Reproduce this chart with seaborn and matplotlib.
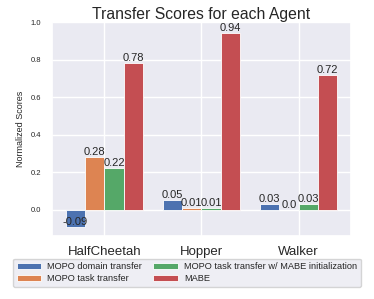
import numpy as np
import matplotlib
matplotlib.use("Agg")
import matplotlib.pyplot as plt
import seaborn as sns

agents = ["HalfCheetah", "Hopper", "Walker"]
series_names = ["MOPO domain transfer", "MOPO task transfer",
                "MOPO task transfer w/ MABE initialization", "MABE"]
domain_transfer = [-0.09, 0.05, 0.03]
task_transfer = [0.28, 0.01, 0.0]
task_transfer_mabe = [0.22, 0.01, 0.03]
mabe = [0.78, 0.94, 0.72]
series_values = [domain_transfer, task_transfer, task_transfer_mabe, mabe]
y_ticks = [0.0, 0.2, 0.4, 0.6, 0.8, 1.0]

sns.set_theme(style="darkgrid")
plt.rcParams['font.family'] = ['Liberation Sans', 'DejaVu Sans']

colors = sns.color_palette("deep")
fig = plt.figure(figsize=(3.74, 2.99), dpi=100)
ax = fig.add_axes([0.139, 0.211, 0.7995, 0.715])

x = np.arange(len(agents))
w = 0.2
handles = []
for i, (name, vals) in enumerate(zip(series_names, series_values)):
    pos = x + (i - 1.5) * w
    bars = ax.bar(pos, vals, width=w, color=colors[i], label=name,
                  edgecolor="white", linewidth=0.6)
    handles.append(bars)
    for p, v in zip(pos, vals):
        ax.text(p, v, f"{round(v, 2)}", ha="center", va="bottom", fontsize=8,
                color="#262626")

ax.set_xticks(x)
ax.set_xticklabels(agents, fontsize=9.5)
ax.set_yticks(y_ticks)
ax.set_yticklabels([f"{t:.1f}" for t in y_ticks], fontsize=5.5)
ax.set_ylim(-0.14, 1.0)
ax.set_xlim(-0.54, 2.54)
ax.set_ylabel("Normalized Scores", fontsize=6.5)
ax.set_title("Transfer Scores for each Agent", fontsize=11.3, pad=2)
ax.tick_params(axis='x', pad=1)
ax.tick_params(axis='y', pad=2)

fig.legend(handles=handles, labels=series_names, loc="lower center",
           bbox_to_anchor=(0.5, 0.025), ncol=2, fontsize=6.7,
           frameon=True, columnspacing=1.2, handlelength=2.6,
           handletextpad=0.7, labelspacing=0.3, borderpad=0.4)

fig.savefig("out.png", dpi=100)
